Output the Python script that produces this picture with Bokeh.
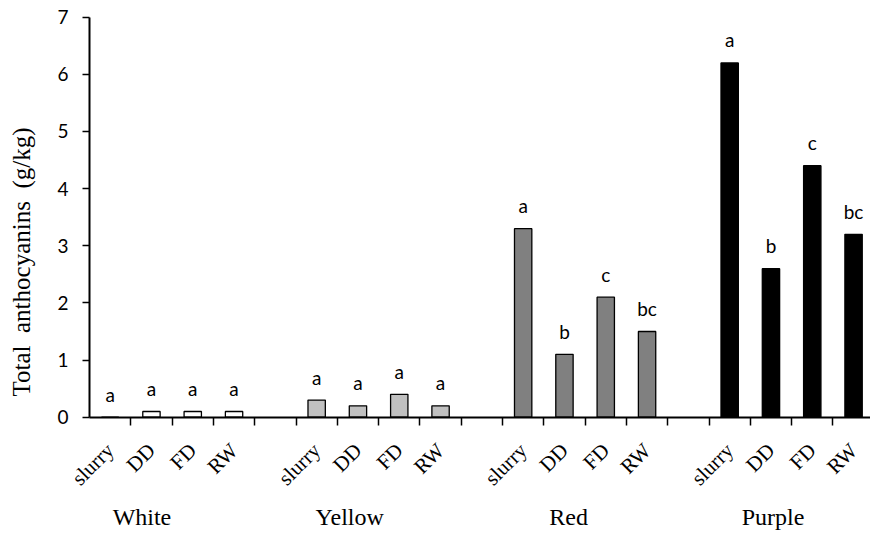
import math
from bokeh.plotting import figure
from bokeh.models import FixedTicker, Range1d, ColumnDataSource, LinearAxis
from bokeh.embed import file_html
from bokeh.resources import INLINE
from bokeh.core.properties import value

# ---- data ----
groups = ["White", "Yellow", "Red", "Purple"]
methods = ["slurry", "DD", "FD", "RW"]
white = [0.0, 0.1, 0.1, 0.1]
yellow = [0.3, 0.2, 0.4, 0.2]
red = [3.3, 1.1, 2.1, 1.5]
purple = [6.2, 2.6, 4.4, 3.2]
white_letters = ["a", "a", "a", "a"]
yellow_letters = ["a", "a", "a", "a"]
red_letters = ["a", "b", "c", "bc"]
purple_letters = ["a", "b", "c", "bc"]
y_ticks = [0, 1, 2, 3, 4, 5, 6, 7]
y_label = "Total\u00a0 anthocyanins\u00a0 (g/kg)"

# ---- styling / layout ----
fills = ["#ffffff", "#c0c0c0", "#808080", "#000000"]
group_label_x = [0.77, 5.8, 11.1, 16.05]
method_label_y = -0.52
group_label_y = -1.74
X0, X1 = -2.655, 18.41      # visible x extent (slot units)
Y0, Y1 = -2.0, 7.292        # visible y extent
LABEL_SPAN = (0, 5.43)      # span along which the y title is centred
SERIF = "Liberation Serif"
SANS = "Lato"

series = [white, yellow, red, purple]
letters = [white_letters, yellow_letters, red_letters, purple_letters]

xs, tops, cols, labs, mnames = [], [], [], [], []
for g, (vals, lets) in enumerate(zip(series, letters)):
    for m, (v, l) in enumerate(zip(vals, lets)):
        xs.append(g * 5 + m)
        tops.append(v)
        cols.append(fills[g])
        labs.append(l)
        mnames.append(methods[m])

src = ColumnDataSource(dict(x=xs, top=tops, color=cols, lab=labs, mname=mnames,
                            my=[method_label_y] * len(xs)))
gsrc = ColumnDataSource(dict(x=group_label_x, y=[group_label_y] * len(groups),
                             name=groups))

p = figure(width=870, height=531, output_backend="svg", toolbar_location=None,
           x_range=Range1d(X0, X1), y_range=Range1d(Y0, Y1),
           min_border_left=0, min_border_right=0, min_border_top=0,
           min_border_bottom=0)
p.outline_line_color = None
p.xgrid.visible = False
p.ygrid.visible = False
p.background_fill_color = "white"
p.border_fill_color = "white"

p.vbar(x="x", top="top", bottom=0, width=0.42, fill_color="color",
       line_color="#000000", line_width=1.3, source=src)

# significance letters
p.text(x="x", y="top", text="lab", source=src, text_align="center",
       text_baseline="alphabetic", y_offset=-23,
       text_font=value(SANS), text_font_size="19px", text_color="#000000")

# category (method) labels, rotated
p.text(x="x", y="my", text="mname", source=src, angle=math.pi / 4,
       text_align="right", text_baseline="middle",
       text_font=value(SERIF), text_font_size="21px", text_color="#000000")

# group labels
p.text(x="x", y="y", text="name", source=gsrc, text_align="center",
       text_baseline="alphabetic",
       text_font=value(SERIF), text_font_size="24px", text_color="#000000")

# y axis at x = -0.5 (left edge of first slot)
ya = p.yaxis[0]
ya.fixed_location = -0.5
ya.ticker = FixedTicker(ticks=y_ticks, minor_ticks=[])
ya.bounds = (0, 7)
ya.axis_line_width = 2
ya.axis_line_color = "#000000"
ya.major_tick_line_width = 1.5
ya.major_tick_line_color = "#000000"
ya.major_tick_out = 7
ya.major_tick_in = 0
ya.minor_tick_line_color = None
ya.major_label_standoff = 14
ya.major_label_text_font = SANS
ya.major_label_text_font_size = "19px"
ya.major_label_text_color = "#000000"

# y axis title (separate, line-less axis so the title sits where the reference has it)
title_axis = LinearAxis(fixed_location=-0.5, bounds=LABEL_SPAN,
                        ticker=FixedTicker(ticks=[], minor_ticks=[]),
                        axis_line_color=None, major_tick_line_color=None,
                        minor_tick_line_color=None, major_tick_out=0,
                        major_tick_in=0, minor_tick_out=0, minor_tick_in=0,
                        major_label_standoff=0,
                        axis_label=y_label, axis_label_text_font=SERIF,
                        axis_label_text_font_style="normal",
                        axis_label_text_font_size="25px",
                        axis_label_text_color="#000000",
                        axis_label_standoff=55)
p.add_layout(title_axis, "left")

# x axis at y = 0
xa = p.xaxis[0]
xa.fixed_location = 0
xa.bounds = (-0.5, X1)
xa.ticker = FixedTicker(ticks=xs, minor_ticks=[k + 0.5 for k in range(18)])
xa.axis_line_width = 2
xa.axis_line_color = "#000000"
xa.major_tick_line_color = None
xa.major_tick_out = 0
xa.major_tick_in = 0
xa.major_label_text_color = None
xa.minor_tick_line_color = "#000000"
xa.minor_tick_line_width = 1.5
xa.minor_tick_out = 8
xa.minor_tick_in = 0

open("out.html", "w").write(file_html(p, INLINE))
